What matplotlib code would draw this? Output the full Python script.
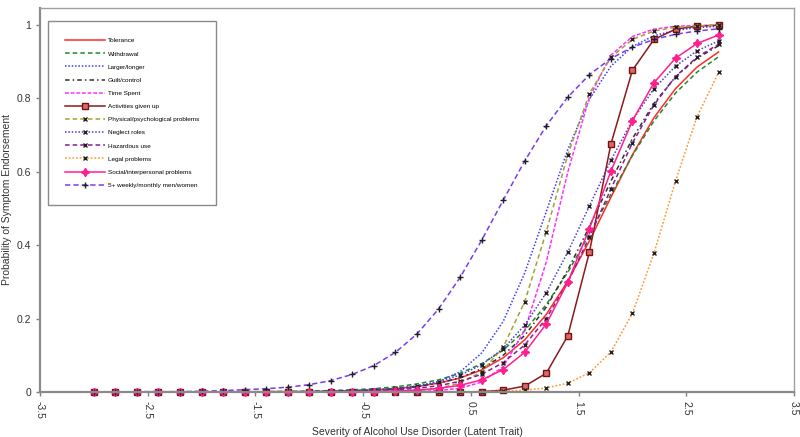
import matplotlib
matplotlib.use("Agg")
import matplotlib.pyplot as plt

plt.rcParams['font.family'] = ['Liberation Sans Narrow', 'Liberation Sans', 'DejaVu Sans']

# latent trait grid
theta = [-3.0, -2.8, -2.6, -2.4, -2.2, -2.0, -1.8, -1.6, -1.4, -1.2,
         -1.0, -0.8, -0.6, -0.4, -0.2, 0.0, 0.2, 0.4, 0.6, 0.8,
         1.0, 1.2, 1.4, 1.6, 1.8, 2.0, 2.2, 2.4, 2.6, 2.8]

# probability of endorsement
tolerance = [0, 0, 0, 0, 0, 0, 0, 0, 0.001, 0.001, 0.001, 0.002, 0.004, 0.006, 0.009,
             0.015, 0.024, 0.038, 0.060, 0.093, 0.142, 0.211, 0.302, 0.411, 0.530,
             0.646, 0.747, 0.826, 0.885, 0.926]
withdrawal = [0, 0, 0, 0, 0, 0, 0, 0.001, 0.001, 0.002, 0.002, 0.004, 0.006, 0.009, 0.014,
              0.022, 0.033, 0.051, 0.077, 0.114, 0.167, 0.238, 0.326, 0.429, 0.538,
              0.644, 0.738, 0.814, 0.871, 0.913]
larger_longer = [0, 0, 0, 0, 0, 0, 0, 0, 0, 0, 0, 0.001, 0.002, 0.004, 0.007,
                 0.014, 0.028, 0.055, 0.106, 0.192, 0.324, 0.491, 0.660, 0.797, 0.887,
                 0.941, 0.970, 0.985, 0.992, 0.996]
guilt_control = [0, 0, 0, 0, 0, 0, 0, 0, 0, 0.001, 0.001, 0.002, 0.003, 0.005, 0.009,
                 0.015, 0.024, 0.039, 0.063, 0.100, 0.154, 0.231, 0.332, 0.450, 0.574,
                 0.690, 0.786, 0.858, 0.909, 0.943]
time_spent = [0, 0, 0, 0, 0, 0, 0, 0, 0, 0, 0, 0, 0, 0, 0,
              0.001, 0.004, 0.010, 0.027, 0.069, 0.168, 0.354, 0.599, 0.802, 0.917,
              0.968, 0.988, 0.996, 0.998, 0.999]
activities = [0, 0, 0, 0, 0, 0, 0, 0, 0, 0, 0, 0, 0, 0, 0,
              0, 0, 0, 0.001, 0.005, 0.016, 0.051, 0.153, 0.380, 0.675,
              0.876, 0.960, 0.988, 0.996, 0.999]
physical = [0, 0, 0, 0, 0, 0, 0, 0, 0, 0, 0, 0, 0, 0.001, 0.002,
            0.004, 0.010, 0.024, 0.055, 0.122, 0.246, 0.436, 0.646, 0.812, 0.911,
            0.960, 0.983, 0.993, 0.997, 0.999]
neglect = [0, 0, 0, 0, 0, 0, 0, 0, 0, 0.001, 0.001, 0.002, 0.004, 0.006, 0.010,
           0.017, 0.028, 0.046, 0.074, 0.118, 0.182, 0.270, 0.381, 0.506, 0.631,
           0.740, 0.826, 0.887, 0.929, 0.956]
hazardous = [0, 0, 0, 0, 0, 0, 0, 0, 0, 0, 0.001, 0.001, 0.002, 0.004, 0.006,
             0.010, 0.017, 0.029, 0.048, 0.080, 0.128, 0.200, 0.299, 0.421, 0.553,
             0.678, 0.782, 0.859, 0.912, 0.947]
legal = [0, 0, 0, 0, 0, 0, 0, 0, 0, 0, 0, 0, 0, 0, 0,
         0, 0, 0, 0.001, 0.002, 0.005, 0.011, 0.024, 0.052, 0.109,
         0.214, 0.378, 0.574, 0.750, 0.870]
social = [0, 0, 0, 0, 0, 0, 0, 0, 0, 0, 0, 0, 0.001, 0.001, 0.003,
          0.005, 0.010, 0.018, 0.033, 0.061, 0.108, 0.185, 0.299, 0.445, 0.601,
          0.739, 0.842, 0.909, 0.949, 0.972]
weekly = [0, 0, 0.001, 0.001, 0.001, 0.002, 0.004, 0.006, 0.009, 0.013, 0.020, 0.031, 0.048, 0.072, 0.108,
          0.158, 0.226, 0.312, 0.413, 0.522, 0.629, 0.725, 0.803, 0.864, 0.908,
          0.939, 0.960, 0.974, 0.983, 0.989]

xticks = [-3.5, -2.5, -1.5, -0.5, 0.5, 1.5, 2.5, 3.5]
yticks = [0, 0.2, 0.4, 0.6, 0.8, 1.0]
ytick_labels = ['0', '0.2', '0.4', '0.6', '0.8', '1']

# label, data, color, linestyle, marker, marker face, marker edge, marker size
series = [
    ('Tolerance', tolerance, '#ff2a2a', '-', None, None, None, 0),
    ('Withdrawal', withdrawal, '#1f8a2e', (0, (3, 2)), None, None, None, 0),
    ('Larger/longer', larger_longer, '#3a3aff', (0, (1, 1.2)), None, None, None, 0),
    ('Guilt/control', guilt_control, '#303030', (0, (3, 2, 1, 2)), None, None, None, 0),
    ('Time Spent', time_spent, '#ff30ff', (0, (2.5, 1.2)), None, None, None, 0),
    ('Activities given up', activities, '#8b1a1a', '-', 's', '#d86a6a', '#7a1010', 4),
    ('Physical/psychological problems', physical, '#a5a033', (0, (3, 2)), 'x', '#202020', '#202020', 3.5),
    ('Neglect roles', neglect, '#4b3fc8', (0, (1, 1.2)), 'x', '#202020', '#202020', 3.5),
    ('Hazardous use', hazardous, '#8a1a9a', (0, (3, 2)), 'x', '#202020', '#202020', 3.5),
    ('Legal problems', legal, '#ff9a33', (0, (1.2, 1.2)), 'x', '#202020', '#202020', 3.5),
    ('Social/interpersonal problems', social, '#ff1f8f', '-', (4, 1, 0), '#ff1f8f', '#ff1f8f', 6),
    ('5+ weekly/monthly men/women', weekly, '#7a3cf0', (0, (3.5, 2)), '+', '#202020', '#202020', 5),
]

fig = plt.figure(figsize=(8, 4.37), dpi=100)
ax = fig.add_axes([0.05, 0.103, 0.9425, 0.879])

for label, vals, color, ls, mk, mfc, mec, ms in series:
    ax.plot(theta, vals, color=color, linestyle=ls, linewidth=1.1,
            marker=mk, markerfacecolor=mfc, markeredgecolor=mec,
            markersize=ms, markeredgewidth=1.0, label=label, clip_on=False)

ax.set_xlim(-3.5, 3.5)
ax.set_ylim(0, 1.046)
ax.set_xticks(xticks)
ax.set_xticklabels([str(t) for t in xticks], rotation=-90)
ax.set_yticks(yticks)
ax.set_yticklabels(ytick_labels)
ax.tick_params(axis='both', colors='#808080', labelcolor='#333333', labelsize=7.5,
               length=3, width=1)

for side in ['left', 'bottom']:
    ax.spines[side].set_color('#8a8a8a')
    ax.spines[side].set_linewidth(1.6)
for side in ['top', 'right']:
    ax.spines[side].set_color('#a0a0a0')
    ax.spines[side].set_linewidth(1.0)

ax.set_xlabel('Severity of Alcohol Use Disorder (Latent Trait)', fontsize=7.5, color='#333333', labelpad=6)
ax.set_ylabel('Probability of Symptom Endorsement', fontsize=7.5, color='#333333', labelpad=3)

leg = ax.legend(loc='upper left', bbox_to_anchor=(0.011, 0.965), fontsize=4.6,
                handlelength=6.2, handletextpad=0.5, numpoints=1, borderpad=2.6,
                labelspacing=1.2, fancybox=False, edgecolor='#8a8a8a', framealpha=1,
                borderaxespad=0)
leg.get_frame().set_linewidth(1.0)

fig.savefig('out.png', dpi=100)
